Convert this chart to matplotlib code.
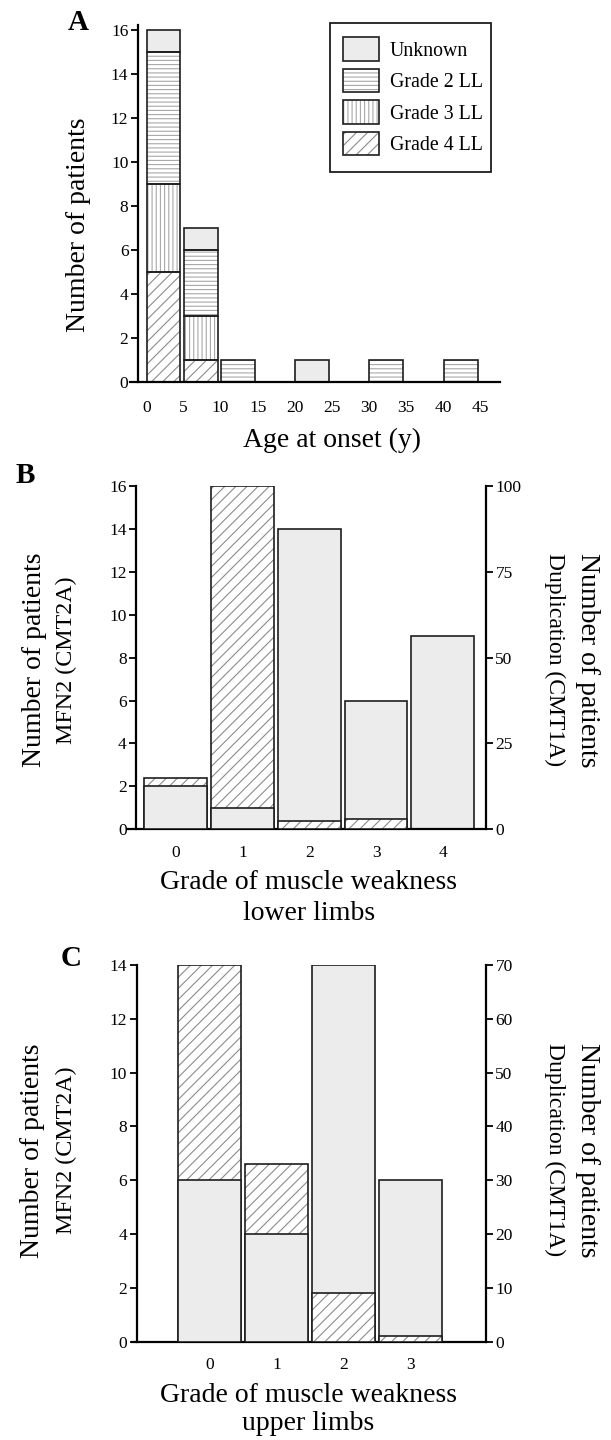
import numpy as np
import matplotlib
matplotlib.use('Agg')
import matplotlib.pyplot as plt
from matplotlib.patches import Patch, Rectangle

plt.rcParams['font.family'] = ['Liberation Serif', 'DejaVu Serif']
plt.rcParams['hatch.linewidth'] = 0.8

#------------------------------------------------------------------------------
#   Data
#------------------------------------------------------------------------------
# panel A - age at onset, stacked by grade of lower limb weakness
age_bins = [0, 5, 10, 20, 30, 40]
grade4_ll = [5, 1, 0, 0, 0, 0]
grade3_ll = [4, 2, 0, 0, 0, 0]
grade2_ll = [6, 3, 1, 0, 1, 1]
unknown_ll = [1, 1, 0, 1, 0, 0]
age_ticks = [0, 5, 10, 15, 20, 25, 30, 35, 40, 45]

# panel B - lower limbs
lower_grades = [0, 1, 2, 3, 4]
lower_mfn2 = [2, 1, 14, 6, 9]
lower_cmt1a = [15, 100, 2.5, 3, 0]

# panel C - upper limbs
upper_grades = [0, 1, 2, 3]
upper_mfn2 = [6, 4, 14, 6]
upper_cmt1a = [70, 33, 9, 1]

W, H = 611, 1440
GRAY = '#ececec'
EDGE = '#1e1e1e'
HCOL = '#8c8c8c'
LCOL = '#a8a8a8'
TICK_FS = 12.5


def px(x, y):
    return x / W, 1 - y / H


def box(l, t, r, b):
    return [l / W, 1 - b / H, (r - l) / W, (b - t) / H]


def hbar(ax, x, h, bottom=0, width=0.94, hatch=None, hcol=HCOL, align='center', z=2):
    # hatch drawn in gray, outline in black on top
    if hatch:
        ax.bar(x, h, width, bottom=bottom, align=align, color='white',
               edgecolor=hcol, hatch=hatch, linewidth=0, zorder=z)
    else:
        ax.bar(x, h, width, bottom=bottom, align=align, color=GRAY,
               linewidth=0, zorder=z)
    ax.bar(x, h, width, bottom=bottom, align=align, fill=False,
           edgecolor=EDGE, linewidth=1.2, zorder=z + 0.1)


fig = plt.figure(figsize=(W / 100, H / 100), dpi=100)

#------------------------------------------------------------------------------
#   Panel A
#------------------------------------------------------------------------------
axA = fig.add_axes(box(130.4, 25, 500, 382))
left = np.array(age_bins) + 0.05
bottom = np.zeros(len(age_bins))
layers = [(grade4_ll, '///', HCOL), (grade3_ll, '||||', LCOL),
          (grade2_ll, '----', LCOL), (unknown_ll, None, None)]
for vals, hatch, hc in layers:
    for xi, v, b in zip(left, vals, bottom):
        if v > 0:
            hbar(axA, xi, v, bottom=b, width=4.55, hatch=hatch, hcol=hc, align='edge')
    bottom = bottom + np.array(vals)

axA.set_xlim(-2.14, 47.62)
axA.set_ylim(0, 16.23)
axA.set_xticks(age_ticks)
axA.set_yticks(range(0, 17, 2))
axA.spines['left'].set_position(('data', -1.10))
axA.spines['top'].set_visible(False)
axA.spines['right'].set_visible(False)
axA.spines['left'].set_linewidth(1.6)
axA.spines['bottom'].set_linewidth(1.6)
axA.tick_params(axis='x', length=0, pad=13, labelsize=TICK_FS)
axA.tick_params(axis='y', length=5, width=1.3, pad=2, labelsize=TICK_FS)

def lh(hatch, hc):
    if hatch:
        return (Patch(facecolor='white', edgecolor=hc, hatch=hatch, linewidth=0),
                Patch(fill=False, edgecolor=EDGE, linewidth=1.2))
    return Patch(facecolor=GRAY, edgecolor=EDGE, linewidth=1.2)

handles = [lh(None, None), lh('----', LCOL), lh('||||', LCOL), lh('///', HCOL)]
labels = ['Unknown', 'Grade 2 LL', 'Grade 3 LL', 'Grade 4 LL']
leg = axA.legend(handles, labels, loc='upper left', bbox_to_anchor=(0.576, 0.965),
                 borderaxespad=0, borderpad=0, fontsize=14.3, handlelength=1.81,
                 handleheight=1.43, labelspacing=0.41, handletextpad=0.54,
                 frameon=False)
axA.add_patch(Rectangle((0.540, 0.587), 0.4356, 0.420, transform=axA.transAxes,
                        fill=False, edgecolor=EDGE, linewidth=1.3, clip_on=False))

fig.text(*px(78, 22.5), 'A', fontsize=21, fontweight='bold', ha='center', va='center')
fig.text(*px(78.4, 225), 'Number of patients', fontsize=20, rotation=90, ha='center', va='center')
fig.text(*px(332, 440), 'Age at onset (y)', fontsize=20, ha='center', va='center')


#------------------------------------------------------------------------------
#   Panels B and C
#------------------------------------------------------------------------------
def grade_panel(rect, grades, mfn2, cmt1a, ymax, rmax, lticks, rticks, xlim, spine_x, pad):
    ax = fig.add_axes(rect)
    to_right = lambda y: y * rmax / ymax
    to_left = lambda y: y * ymax / rmax
    cmt_left = to_left(np.array(cmt1a, dtype=float))
    for g, m, c in zip(grades, mfn2, cmt_left):
        # shorter bar is drawn in front
        if m <= c:
            hbar(ax, g, c, hatch='///', z=2)
            hbar(ax, g, m, z=3)
        else:
            hbar(ax, g, m, z=2)
            if c > 0:
                hbar(ax, g, c, hatch='///', z=3)
    ax.set_xlim(*xlim)
    ax.set_ylim(0, ymax)
    ax.set_xticks(grades)
    ax.set_yticks(lticks)
    ax.spines['left'].set_position(('data', spine_x))
    ax.spines['top'].set_visible(False)
    ax.spines['right'].set_visible(False)
    ax.spines['left'].set_linewidth(1.6)
    ax.spines['bottom'].set_linewidth(1.6)
    ax.tick_params(axis='x', length=0, pad=pad, labelsize=TICK_FS)
    ax.tick_params(axis='y', length=5, width=1.3, pad=2, labelsize=TICK_FS)
    sec = ax.secondary_yaxis('right', functions=(to_right, to_left))
    sec.set_yticks(rticks)
    sec.spines['right'].set_linewidth(1.6)
    sec.tick_params(length=5, width=1.3, pad=1.5, labelsize=TICK_FS)
    return ax


grade_panel(box(127.6, 486, 486.4, 829.3), lower_grades, lower_mfn2, lower_cmt1a,
            16, 100, range(0, 17, 2), [0, 25, 50, 75, 100], (-0.717, 4.651), -0.588, 11)
fig.text(*px(25.3, 476), 'B', fontsize=21, fontweight='bold', ha='center', va='center')
fig.text(*px(35, 660), 'Number of patients', fontsize=20, rotation=90, ha='center', va='center')
fig.text(*px(66, 660), 'MFN2 (CMT2A)', fontsize=17.3, rotation=90, ha='center', va='center')
fig.text(*px(587.5, 660), 'Number of patients', fontsize=20, rotation=270, ha='center', va='center')
fig.text(*px(554.5, 660), 'Duplication (CMT1A)', fontsize=17, rotation=270, ha='center', va='center')
fig.text(*px(308, 882), 'Grade of muscle weakness', fontsize=20, ha='center', va='center')
fig.text(*px(309, 913), 'lower limbs', fontsize=20, ha='center', va='center')

grade_panel(box(132.3, 965, 486.4, 1341.7), upper_grades, upper_mfn2, upper_cmt1a,
            14, 70, range(0, 15, 2), range(0, 71, 10), (-1.159, 4.142), -1.088, 11)
fig.text(*px(71, 959), 'C', fontsize=21, fontweight='bold', ha='center', va='center')
fig.text(*px(33, 1151), 'Number of patients', fontsize=20, rotation=90, ha='center', va='center')
fig.text(*px(66, 1150), 'MFN2 (CMT2A)', fontsize=17.3, rotation=90, ha='center', va='center')
fig.text(*px(587.5, 1150), 'Number of patients', fontsize=20, rotation=270, ha='center', va='center')
fig.text(*px(554.5, 1150), 'Duplication (CMT1A)', fontsize=17, rotation=270, ha='center', va='center')
fig.text(*px(308, 1395), 'Grade of muscle weakness', fontsize=20, ha='center', va='center')
fig.text(*px(308, 1423), 'upper limbs', fontsize=20, ha='center', va='center')

fig.savefig('out.png', dpi=100)
